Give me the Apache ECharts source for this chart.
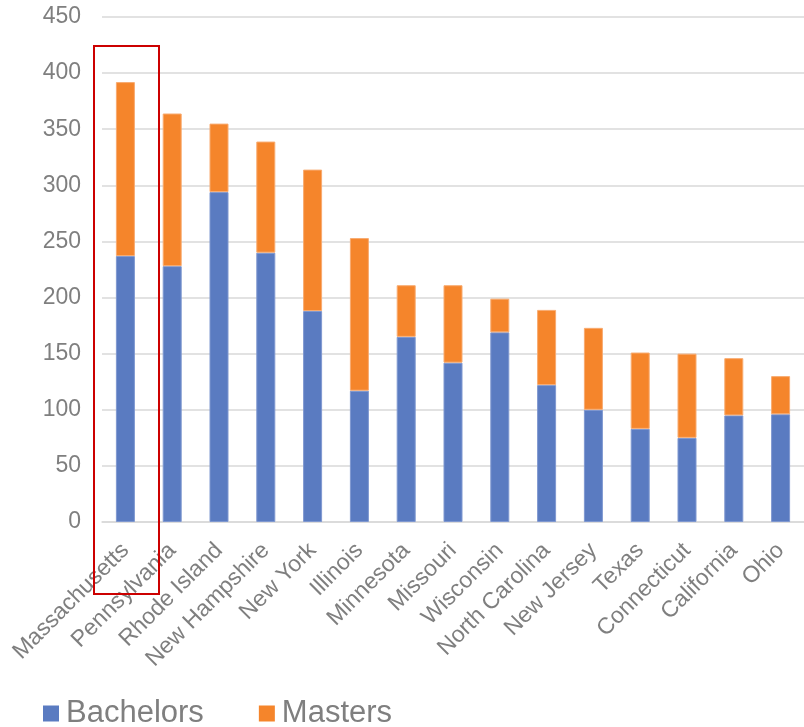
<!DOCTYPE html>
<html>
<head>
<meta charset="utf-8">
<script src="https://cdn.jsdelivr.net/npm/echarts@6/dist/echarts.min.js"></script>
<style>
  html, body { margin: 0; padding: 0; background: #ffffff; }
  #chart { width: 804px; height: 727px; }
</style>
</head>
<body>
<div id="chart"></div>
<script>
// States ranked by total degrees awarded
const states = ['Massachusetts', 'Pennsylvania', 'Rhode Island', 'New Hampshire', 'New York',
  'Illinois', 'Minnesota', 'Missouri', 'Wisconsin', 'North Carolina', 'New Jersey',
  'Texas', 'Connecticut', 'California', 'Ohio'];
const bachelors = [237, 228, 294, 240, 188, 117, 165, 142, 169, 122, 100, 83, 75, 95, 96];
const masters   = [155, 136, 61, 99, 126, 136, 46, 69, 30, 67, 73, 68, 75, 51, 34];
const yTicks = [0, 50, 100, 150, 200, 250, 300, 350, 400, 450];

const textGray = '#7f7f7f';
const gridGray = '#d9d9d9';
const font = '"Liberation Sans", Arial, sans-serif';

const chart = echarts.init(document.getElementById('chart'), null, { renderer: 'canvas' });

chart.setOption({
  animation: false,
  backgroundColor: '#ffffff',
  grid: { left: 102, right: -7, top: 17, bottom: 205, containLabel: false },
  legend: {
    data: ['Bachelors', 'Masters'],
    left: 38,
    top: 693,
    padding: 5,
    icon: 'rect',
    itemWidth: 16,
    itemHeight: 16,
    itemGap: 55,
    itemStyle: { borderWidth: 0 },
    textStyle: { color: textGray, fontSize: 31, fontFamily: font, padding: [0, 0, 0, 2] }
  },
  xAxis: {
    type: 'category',
    data: states,
    axisTick: { show: false },
    axisLine: { show: true, lineStyle: { color: gridGray, width: 1.5 } },
    axisLabel: {
      interval: 0,
      rotate: 45,
      margin: 25,
      color: textGray,
      fontSize: 23,
      fontFamily: font
    }
  },
  yAxis: {
    type: 'value',
    min: yTicks[0],
    max: yTicks[yTicks.length - 1],
    interval: yTicks[1] - yTicks[0],
    axisLine: { show: false },
    axisTick: { show: false },
    splitLine: { lineStyle: { color: gridGray, width: 1.5 } },
    axisLabel: { margin: 21, color: textGray, fontSize: 23, fontFamily: font }
  },
  series: [
    {
      name: 'Bachelors',
      type: 'bar',
      stack: 'degrees',
      barWidth: 19,
      data: bachelors,
      itemStyle: { color: '#5a7bc1', borderColor: '#7f98d0', borderWidth: 1 }
    },
    {
      name: 'Masters',
      type: 'bar',
      stack: 'degrees',
      barWidth: 19,
      data: masters,
      itemStyle: { color: '#f5852b', borderColor: '#f8ab70', borderWidth: 1 }
    }
  ],
  // Highlight box around the leading state
  graphic: [
    {
      type: 'rect',
      shape: { x: 94, y: 46, width: 65, height: 548 },
      style: { fill: 'none', stroke: '#cc0000', lineWidth: 2 },
      z: 100
    }
  ]
});
</script>
</body>
</html>
